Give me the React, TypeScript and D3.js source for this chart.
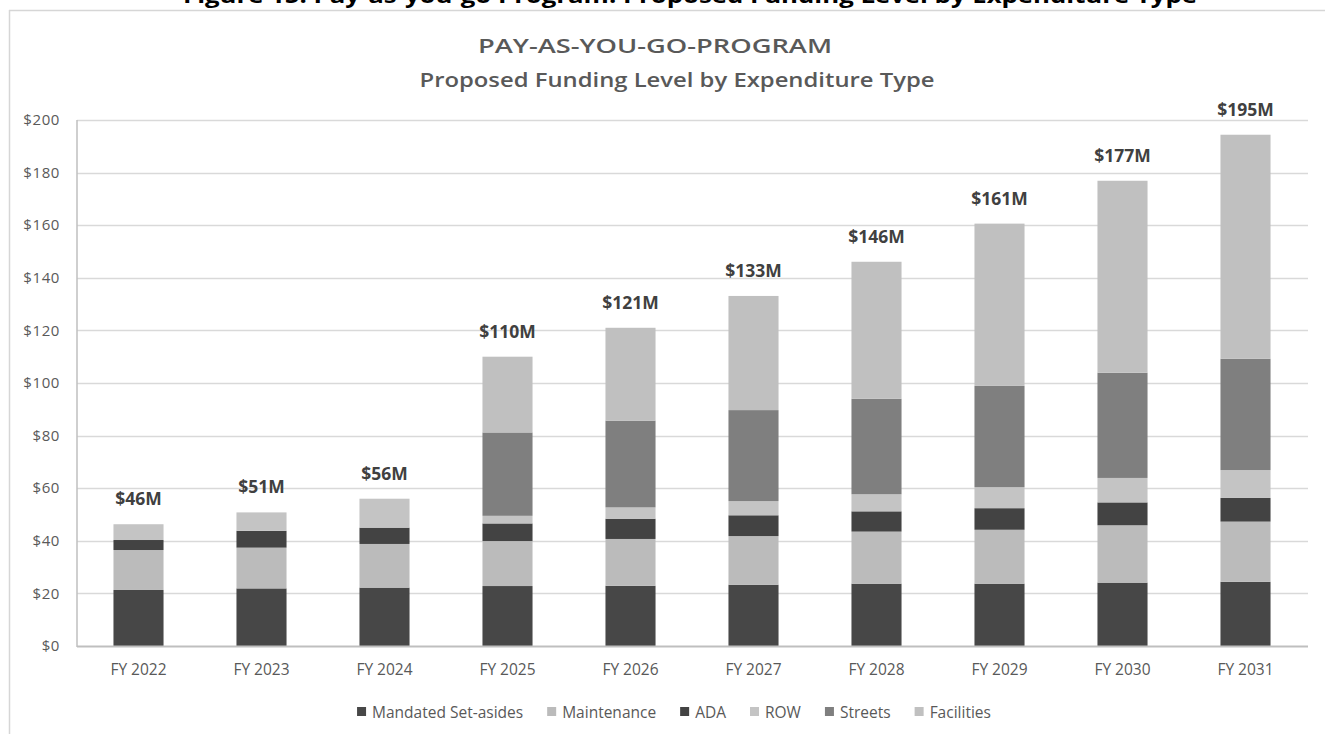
import React, { useEffect, useRef } from "react";
import * as d3 from "d3";

const years = ["FY 2022", "FY 2023", "FY 2024", "FY 2025", "FY 2026", "FY 2027", "FY 2028", "FY 2029", "FY 2030", "FY 2031"];
const seriesNames = ["Mandated Set-asides", "Maintenance", "ADA", "ROW", "Streets", "Facilities"];
const mandated = [21.3, 21.9, 22.2, 22.8, 22.9, 23.3, 23.7, 23.7, 24.1, 24.4];
const maintenance = [15.2, 15.5, 16.6, 17.1, 17.8, 18.5, 19.8, 20.5, 21.8, 22.9];
const ada = [3.8, 6.4, 6.2, 6.7, 7.7, 7.9, 7.7, 8.2, 8.7, 9.0];
const row = [6.0, 7.0, 11.0, 2.9, 4.3, 5.4, 6.5, 8.0, 9.3, 10.6];
const streets = [0, 0, 0, 31.7, 33.0, 34.6, 36.3, 38.5, 40.0, 42.3];
const facilities = [0, 0, 0, 28.8, 35.3, 43.4, 52.1, 61.7, 73.0, 85.2];
const totalLabels = ["$46M", "$51M", "$56M", "$110M", "$121M", "$133M", "$146M", "$161M", "$177M", "$195M"];
const yTicks = [0, 20, 40, 60, 80, 100, 120, 140, 160, 180, 200];
const colors = ["#474747", "#BBBBBB", "#434343", "#C4C4C4", "#7F7F7F", "#C0C0C0"];

const FONT = "'Open Sans', 'Noto Sans', sans-serif";

export default function App() {
  const ref = useRef<SVGSVGElement | null>(null);

  useEffect(() => {
    const svg = d3.select(ref.current);
    svg.selectAll("*").remove();
    const W = 1325, H = 734;

    const seriesValues = [mandated, maintenance, ada, row, streets, facilities];
    const table = years.map((y, i) => {
      const o: any = { year: y };
      seriesNames.forEach((s, k) => (o[s] = seriesValues[k][i]));
      return o;
    });
    const stacked = d3.stack<any>().keys(seriesNames)(table);

    const x = d3.scaleBand<string>().domain(years).range([77, 1307]).paddingInner(0.593).paddingOuter(0.2965);
    const y = d3.scaleLinear().domain([0, 200]).range([646, 120]);

    // frame
    svg.append("rect").attr("x", 0).attr("y", 0).attr("width", W).attr("height", H).attr("fill", "#fff");
    svg.append("line").attr("x1", 9).attr("x2", W).attr("y1", 10.5).attr("y2", 10.5).attr("stroke", "#D6D6D6").attr("stroke-width", 1.5);
    svg.append("line").attr("x1", 9.5).attr("x2", 9.5).attr("y1", 10).attr("y2", H).attr("stroke", "#D6D6D6").attr("stroke-width", 1.5);

    // header (cut off at the top, as in the source page)
    svg.append("text").attr("x", 183).attr("y", 3).attr("font-family", FONT).attr("font-weight", 700)
      .attr("font-size", 22).attr("fill", "#000").attr("textLength", 1014).attr("lengthAdjust", "spacingAndGlyphs")
      .text("Figure 15: Pay-as-you-go Program: Proposed Funding Level by Expenditure Type");

    // titles
    svg.append("text").attr("x", 655).attr("y", 53).attr("text-anchor", "middle").attr("font-family", FONT)
      .attr("font-weight", 600).attr("font-size", 20).attr("fill", "#595959")
      .attr("textLength", 354).attr("lengthAdjust", "spacingAndGlyphs").text("PAY-AS-YOU-GO-PROGRAM");
    svg.append("text").attr("x", 677).attr("y", 87).attr("text-anchor", "middle").attr("font-family", FONT)
      .attr("font-weight", 600).attr("font-size", 20).attr("fill", "#595959")
      .attr("textLength", 515).attr("lengthAdjust", "spacingAndGlyphs").text("Proposed Funding Level by Expenditure Type");

    // gridlines
    svg.append("g").selectAll("line").data(yTicks.filter((t) => t > 0)).join("line")
      .attr("x1", 77).attr("x2", 1308).attr("y1", (d) => Math.round(y(d)) + 0.5).attr("y2", (d) => Math.round(y(d)) + 0.5)
      .attr("stroke", "#D9D9D9").attr("stroke-width", 1.3);

    // y tick labels
    svg.append("g").selectAll("text").data(yTicks).join("text")
      .attr("x", 60).attr("y", (d) => y(d)).attr("dy", "0.35em").attr("text-anchor", "end")
      .attr("font-family", FONT).attr("font-size", 15).attr("letter-spacing", 0.6).attr("fill", "#595959")
      .text((d) => `$${d}`);

    // bars
    svg.append("g").selectAll("g").data(stacked).join("g")
      .attr("fill", (_d, i) => colors[i])
      .selectAll("rect").data((d) => d).join("rect")
      .attr("x", (d: any) => x(d.data.year)!)
      .attr("width", x.bandwidth())
      .attr("y", (d: any) => y(d[1]))
      .attr("height", (d: any) => Math.max(0, y(d[0]) - y(d[1])));

    // axes lines
    svg.append("line").attr("x1", 77).attr("x2", 1308).attr("y1", 646.5).attr("y2", 646.5).attr("stroke", "#BFBFBF").attr("stroke-width", 2);
    svg.append("line").attr("x1", 77).attr("x2", 77).attr("y1", 120).attr("y2", 647).attr("stroke", "#BFBFBF").attr("stroke-width", 1.5);

    // x labels
    svg.append("g").selectAll("text").data(years).join("text")
      .attr("x", (d) => x(d)! + x.bandwidth() / 2).attr("y", 675).attr("text-anchor", "middle")
      .attr("font-family", FONT).attr("font-size", 15.5).attr("fill", "#595959").text((d) => d);

    // total labels
    const top = stacked[stacked.length - 1];
    svg.append("g").selectAll("text").data(top).join("text")
      .attr("x", (d: any) => x(d.data.year)! + x.bandwidth() / 2)
      .attr("y", (d: any) => y(d[1]) - 19)
      .attr("text-anchor", "middle").attr("font-family", FONT).attr("font-weight", 700)
      .attr("font-size", 17.5).attr("fill", "#404040")
      .text((_d: any, i: number) => totalLabels[i]);

    // legend
    const lg = svg.append("g");
    const items = seriesNames.map((name, i) => {
      const g = lg.append("g");
      g.append("rect").attr("x", 0).attr("y", 707).attr("width", 9).attr("height", 9).attr("fill", colors[i]);
      const t = g.append("text").attr("x", 15).attr("y", 717.5).attr("font-family", FONT).attr("font-size", 15.5)
        .attr("fill", "#595959").text(name);
      const w = (t.node() as SVGTextElement).getComputedTextLength();
      return { g, w: 15 + w };
    });
    const gap = 24;
    const total = d3.sum(items, (d) => d.w) + gap * (items.length - 1);
    let cx = 674 - total / 2;
    items.forEach((it) => {
      it.g.attr("transform", `translate(${cx},0)`);
      cx += it.w + gap;
    });
  }, []);

  return (
    <svg ref={ref} width={1325} height={734} style={{ position: "absolute", left: 0, top: 0, display: "block" }} />
  );
}
